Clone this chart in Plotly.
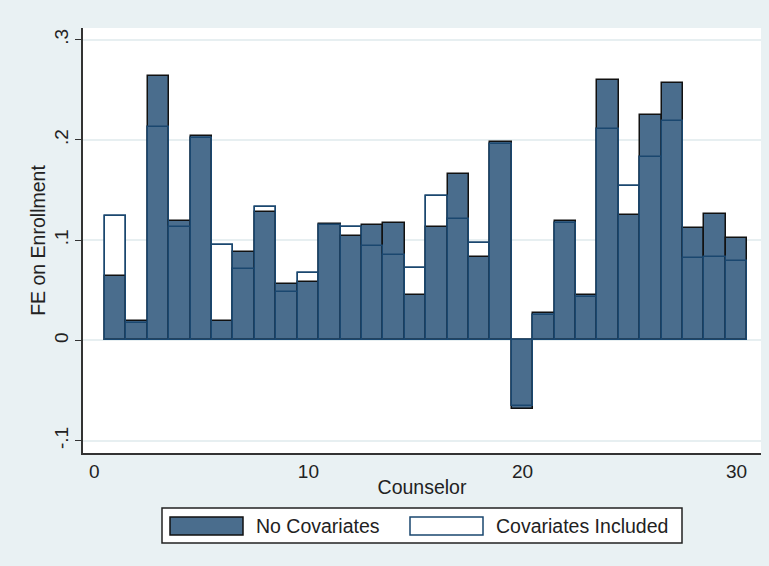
import plotly.graph_objects as go

# Counselor fixed effects on enrollment, estimated with and without covariates
counselors = list(range(1, 31))
fe_no_covariates = [0.064, 0.019, 0.264, 0.119, 0.204, 0.019, 0.088, 0.128, 0.056, 0.058,
                    0.116, 0.104, 0.115, 0.117, 0.045, 0.113, 0.166, 0.083, 0.198, -0.068,
                    0.027, 0.119, 0.045, 0.260, 0.125, 0.225, 0.257, 0.112, 0.126, 0.102]
fe_covariates = [0.124, 0.017, 0.213, 0.113, 0.202, 0.095, 0.071, 0.133, 0.048, 0.067,
                 0.115, 0.113, 0.094, 0.085, 0.072, 0.144, 0.121, 0.097, 0.196, -0.065,
                 0.025, 0.117, 0.043, 0.211, 0.154, 0.183, 0.219, 0.082, 0.083, 0.079]

y_ticks = [-0.1, 0, 0.1, 0.2, 0.3]
y_tick_text = ["-.1", "0", ".1", ".2", ".3"]
x_ticks = [0, 10, 20, 30]

FILL = "#4a6d8d"
NAVY = "#1a476f"
BG = "#e9f1f3"
FONT = "Liberation Sans, Arial, sans-serif"
TXT = 19.5

W, H = 769, 566
L, R, T, B = 83, 8, 28, 113
PW, PH = W - L - R, H - T - B


def px(x):
    return (x - L) / PW


def py(y):
    return (H - B - y) / PH


fig = go.Figure()
# white body of the "covariates" bars underneath
fig.add_trace(go.Bar(x=counselors, y=fe_covariates, width=1,
                     marker=dict(color="white", line=dict(color=NAVY, width=1.5)),
                     showlegend=False, hoverinfo="skip"))
# filled "no covariates" bars
fig.add_trace(go.Bar(x=counselors, y=fe_no_covariates, width=1, name="No Covariates",
                     marker=dict(color=FILL, line=dict(color="#111111", width=1.5)),
                     showlegend=False))
# outline of the "covariates" bars on top
fig.add_trace(go.Bar(x=counselors, y=fe_covariates, width=1, name="Covariates Included",
                     marker=dict(color="rgba(0,0,0,0)", line=dict(color=NAVY, width=1.5)),
                     showlegend=False))

# legend box drawn in paper coordinates
shapes = [
    dict(type="rect", xref="paper", yref="paper",
         x0=px(162), x1=px(682), y0=py(543), y1=py(508),
         fillcolor="white", line=dict(color="#222222", width=1.5)),
    dict(type="rect", xref="paper", yref="paper",
         x0=px(170), x1=px(243), y0=py(535), y1=py(517),
         fillcolor=FILL, line=dict(color="#111111", width=1.5)),
    dict(type="rect", xref="paper", yref="paper",
         x0=px(410), x1=px(483), y0=py(535), y1=py(517),
         fillcolor="white", line=dict(color=NAVY, width=1.5)),
]
annotations = [
    dict(text="No Covariates", xref="paper", yref="paper", x=px(254), y=py(526),
         xanchor="left", yanchor="middle", showarrow=False,
         font=dict(family=FONT, size=TXT, color="#222222")),
    dict(text="Covariates Included", xref="paper", yref="paper", x=px(494), y=py(526),
         xanchor="left", yanchor="middle", showarrow=False,
         font=dict(family=FONT, size=TXT, color="#222222")),
]

fig.update_layout(
    width=W, height=H,
    margin=dict(l=L, r=R, t=T, b=B, pad=0),
    paper_bgcolor=BG, plot_bgcolor="white",
    barmode="overlay", bargap=0,
    font=dict(family=FONT, size=TXT, color="#222222"),
    shapes=shapes, annotations=annotations,
    xaxis=dict(range=[-0.528, 31.14], tickvals=x_ticks, ticks="", showgrid=False,
               showline=True, linecolor="#333333", linewidth=1.5, zeroline=False,
               title=dict(text="Counselor", standoff=0, font=dict(size=TXT)),
               tickfont=dict(size=19)),
    yaxis=dict(range=[-0.1122, 0.3116], tickvals=y_ticks, ticktext=y_tick_text,
               tickangle=-90, ticks="outside", ticklen=6, tickcolor="#333333",
               showgrid=True, gridcolor="#e7eff1", gridwidth=1.5, zeroline=False,
               showline=True, linecolor="#333333", linewidth=1.5,
               title=dict(text="FE on Enrollment", standoff=0, font=dict(size=TXT)),
               tickfont=dict(size=19)),
)

fig.write_html("out.html")
